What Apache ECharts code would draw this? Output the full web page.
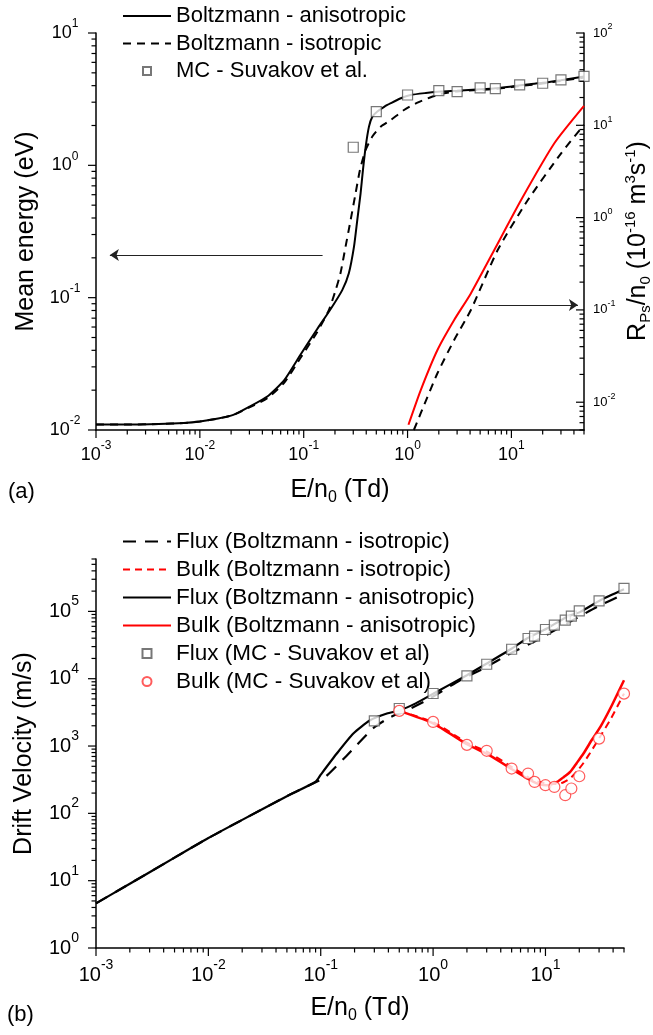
<!DOCTYPE html>
<html><head><meta charset="utf-8">
<script src="https://cdn.jsdelivr.net/npm/echarts/dist/echarts.min.js"></script>
<style>html,body{margin:0;padding:0;background:#fff}#c{width:653px;height:1035px}</style>
</head><body><div id="c"></div>
<script>
// ---------- data (panel a) ----------
const eTd_aniso = [0.001,0.002,0.004,0.007,0.01,0.015,0.021,0.03,0.045,0.065,0.093,0.135,0.18,0.235,0.272,0.305,0.328,0.353,0.372,0.395,0.425,0.458,0.512,0.6,0.69,0.85,1.07,1.5,2.09,3,5,7,10,15,20,30,50];
const energy_aniso = [0.0110,0.0110,0.0111,0.0113,0.0116,0.0122,0.0130,0.0150,0.0180,0.0238,0.037,0.058,0.081,0.114,0.153,0.243,0.386,0.615,0.923,1.38,1.96,2.33,2.55,2.78,2.95,3.2,3.4,3.52,3.61,3.66,3.75,3.82,3.95,4.1,4.2,4.4,4.7];
const eTd_iso = [0.001,0.002,0.004,0.007,0.01,0.015,0.021,0.03,0.045,0.065,0.093,0.135,0.175,0.203,0.226,0.253,0.283,0.316,0.348,0.395,0.458,0.551,0.689,0.925,1.245,1.67,2.25,3,5,7,10,15,20,30,50];
const energy_iso = [0.0110,0.0110,0.0111,0.0113,0.0116,0.0122,0.0130,0.0148,0.0175,0.0228,0.035,0.055,0.081,0.114,0.153,0.243,0.386,0.615,0.923,1.31,1.65,1.96,2.20,2.62,2.98,3.27,3.51,3.62,3.72,3.78,3.9,4.05,4.15,4.35,4.6];
const mcE_Td = [0.3,0.5,1,2,3,5,7,12,20,30,50];
const mcE_energy = [1.37,2.55,3.4,3.67,3.6,3.85,3.8,4.05,4.17,4.42,4.7];
const rTd_aniso = [1.02,1.34,1.94,2.81,4.07,6.84,12.4,25.9,50];
const rPs_aniso = [0.0057,0.01355,0.0368,0.0778,0.151,0.446,1.55,6.38,16.2];
const rTd_iso = [1.15,1.34,1.94,2.81,4.07,7.38,14.4,30.1,50];
const rPs_iso = [0.005,0.0076,0.0206,0.0472,0.0998,0.446,1.55,4.97,10.1];
// ---------- data (panel b) ----------
const fluxTd_aniso = [0.001,0.002,0.005,0.01,0.02,0.05,0.09,0.1,0.139,0.195,0.275,0.388,0.509,0.7,1.01,2.0,3.01,5.03,6.84,10.3,15.5,20.4,30.8,50];
const flux_aniso = [4.6,9,22,43,80,180,295,375,774,1535,2417,3040,3404,4300,6026,11270,16830,28100,39550,55700,82800,98300,146600,213000];
const fluxTd_iso = [0.001,0.002,0.005,0.01,0.02,0.05,0.09,0.109,0.165,0.293,0.415,0.544,0.881,1.74,2.81,4.86,8.4,15.5,28.8,50];
const flux_iso = [4.6,9,22,43,80,180,290,344,682,1838,2680,3210,4795,9500,14180,23700,37300,66100,116700,180000];
const bulkTd_aniso = [0.5,1.01,2.0,3.22,5.2,7.83,9,10.3,11.5,12.7,14.5,16.6,19,21.8,26,30.8,38,50];
const bulk_aniso = [3325,2160,1063,720,437,293,268,262,272,293,345,412,560,774,1250,1923,3700,9500];
const bulkTd_iso = [0.5,1.01,2.0,3.22,5.2,7.83,10.3,12.7,14.5,16.6,19,21.8,26,30.8,38,50];
const bulk_iso = [3325,2250,1120,780,470,310,278,272,290,330,420,560,880,1400,2500,6000];
const mcFluxTd = [0.3,0.5,1,2,3,5,7,8,10,12,15,17,20,30,50];
const mcFlux = [2360,3610,6026,11010,16400,27400,39550,42800,53800,62400,74000,84900,101700,143200,219000];
const mcBulkTd = [0.5,1,2,3,5,7,8,10,12,15,17,20,30,50];
const mcBulk = [3325,2280,1040,850,463,390,293,262,247,186,234,356,1290,6000];
// ---------- axes / labels ----------
const xMajor = [0.001,0.01,0.1,1,10];
const yEnergyMajor = [0.01,0.1,1,10];
const yRateMajor = [0.01,0.1,1,10,100];
const yVelMajor = [1,10,100,1000,10000,100000];
const legendA = ['Boltzmann - anisotropic','Boltzmann - isotropic','MC - Suvakov et al.'];
const legendB = ['Flux (Boltzmann - isotropic)','Bulk (Boltzmann - isotropic)','Flux (Boltzmann - anisotropic)','Bulk (Boltzmann - anisotropic)','Flux (MC - Suvakov et al)','Bulk (MC - Suvakov et al)'];
const rightTitle = 'R{sub|Ps}/n{sub|0} (10{sup|-16} m{sup|3}s{sup|-1})';
// arrow annotations (data units, panel a, left axis)
const arrowLeft = [[0.152,0.21],[0.00136,0.21]];
const arrowRight = [[4.83,0.088],[43.7,0.088]];

const FONT = '"Liberation Sans", Arial, sans-serif';
const pairs = (xs, ys) => xs.map((x, i) => [x, ys[i]]);

function tickVals(min, max, majors) {
  const out = [];
  for (let e = Math.floor(Math.log10(min)) ; e <= Math.ceil(Math.log10(max)); e++) {
    for (let m = 1; m <= 9; m++) {
      const v = parseFloat((m * Math.pow(10, e)).toPrecision(6));
      if (v >= min * 0.9999 && v <= max * 1.0001) out.push([v, majors.indexOf(v) >= 0 ? 1 : 0]);
    }
  }
  return out;
}
function tickSeries(xi, yi, dir, vals, fixed) {
  return {
    type: 'custom', xAxisIndex: xi, yAxisIndex: yi, silent: true, clip: false, z: 5,
    data: vals.map(t => dir === 'down' ? [t[0], fixed, t[1]] : [fixed, t[0], t[1]]),
    encode: {x: 0, y: 1},
    renderItem: function (params, api) {
      const p = api.coord([api.value(0), api.value(1)]);
      const L = api.value(2) ? 8 : 4.5;
      const s = dir === 'down' ? {x1: p[0], y1: p[1], x2: p[0], y2: p[1] + L}
                               : {x1: p[0], y1: p[1], x2: p[0] - L, y2: p[1]};
      return {type: 'line', shape: s, style: {stroke: '#000', lineWidth: 1.2}};
    }
  };
}
function labelFmt(majors) {
  return function (v) {
    for (const m of majors) if (Math.abs(v - m) / m < 1e-6) return '{b|10}{s|' + Math.round(Math.log10(m)) + '}';
    return '';
  };
}
function richLab(b, s, pad) {
  return {b: {fontSize: b, fontFamily: FONT, color: '#000'},
          s: {fontSize: s, fontFamily: FONT, color: '#000', padding: [0, 0, pad, 0]}};
}
const axisLine = {show: true, lineStyle: {color: '#000', width: 1.5}};
const nameRich = {
  sub: {fontSize: 16, fontFamily: FONT, color: '#000', padding: [16, 0, 0, 0]},
  sup: {fontSize: 16, fontFamily: FONT, color: '#000', padding: [0, 0, 16, 0]}
};
const nameRichR = {
  sub: {fontSize: 15, fontFamily: FONT, fill: '#000', padding: [15, 0, 0, 0]},
  sup: {fontSize: 15, fontFamily: FONT, fill: '#000', padding: [0, 0, 15, 0]}
};
const TITLE = {fontSize: 25, fontFamily: FONT, color: '#000'};
function xAx(gi, majors, lb, ls, lp) {
  return {type: 'log', gridIndex: gi, min: 0.001, max: 50, splitNumber: 5,
    axisLine: axisLine, axisTick: {show: false}, splitLine: {show: false},
    axisLabel: {formatter: labelFmt(majors), margin: 10, rich: richLab(lb, ls, lp), showMinLabel: true, showMaxLabel: true, hideOverlap: false},
    name: 'E/n{sub|0} (Td)', nameLocation: 'middle', nameGap: 44,
    nameTextStyle: Object.assign({rich: nameRich}, TITLE)};
}

const lineBase = {type: 'line', symbol: 'none', showSymbol: false, smooth: 0.2, emphasis: {disabled: true}, animation: false};
const lineLegendItem = n => ({name: n, itemStyle: {opacity: 0}});
const squareIcon = 'path://M0,0L10,0L10,10L0,10Z';

const option = {
  animation: false,
  backgroundColor: '#fff',
  grid: [
    {left: 96, top: 33, width: 488, height: 397},
    {left: 96, top: 559, width: 528, height: 389}
  ],
  xAxis: [xAx(0, xMajor, 18, 12, 18), xAx(1, xMajor, 20, 14, 20)],
  yAxis: [
    {type: 'log', gridIndex: 0, min: 0.01, max: 10, splitNumber: 3,
     axisLine: axisLine, axisTick: {show: false}, splitLine: {show: false},
     axisLabel: {formatter: labelFmt(yEnergyMajor), margin: 31, align: 'center', rich: richLab(18, 12, 18), showMinLabel: true, showMaxLabel: true},
     name: 'Mean energy (eV)', nameLocation: 'middle', nameGap: 57, nameTextStyle: TITLE},
    {type: 'log', gridIndex: 0, position: 'right', min: 0.005, max: 100, splitNumber: 5,
     axisLine: axisLine, axisTick: {show: false}, splitLine: {show: false},
     axisLabel: {formatter: labelFmt(yRateMajor), margin: 9, rich: richLab(13, 9, 12), showMinLabel: true, showMaxLabel: true}},
    {type: 'log', gridIndex: 1, min: 1, max: 600000, splitNumber: 6,
     axisLine: axisLine, axisTick: {show: false}, splitLine: {show: false},
     axisLabel: {formatter: labelFmt(yVelMajor), margin: 32, align: 'center', rich: richLab(20, 14, 20), showMinLabel: true, showMaxLabel: true},
     name: 'Drift Velocity (m/s)', nameLocation: 'middle', nameGap: 59, nameTextStyle: TITLE}
  ],
  legend: [
    {data: [lineLegendItem(legendA[0]), lineLegendItem(legendA[1]), {name: legendA[2], icon: squareIcon}],
     orient: 'vertical', left: 117, top: 0, itemWidth: 48, itemHeight: 8, itemGap: 5.5, symbolKeepAspect: true,
     selectedMode: false, textStyle: {fontSize: 22, fontFamily: FONT, color: '#000'}},
    {data: [lineLegendItem(legendB[0]), lineLegendItem(legendB[1]), lineLegendItem(legendB[2]), lineLegendItem(legendB[3]), {name: legendB[4], icon: squareIcon}, legendB[5]],
     orient: 'vertical', left: 117, top: 525, itemWidth: 48, itemHeight: 9, itemGap: 5, symbolKeepAspect: true,
     selectedMode: false, textStyle: {fontSize: 22.5, fontFamily: FONT, color: '#000'}}
  ],
  graphic: [
    {type: 'text', left: 8, top: 481, style: {text: '(a)', fontSize: 22, fontFamily: FONT, fill: '#000'}},
    {type: 'text', left: 7, top: 1004, style: {text: '(b)', fontSize: 22, fontFamily: FONT, fill: '#000'}},
    {type: 'text', x: 638.5, y: 241, rotation: Math.PI / 2,
     style: {text: rightTitle, fontSize: 25, fontFamily: FONT, fill: '#000', align: 'center', verticalAlign: 'middle', rich: nameRichR}}
  ],
  series: [
    Object.assign({}, lineBase, {name: legendA[0], xAxisIndex: 0, yAxisIndex: 0, data: pairs(eTd_aniso, energy_aniso),
      color: '#000', lineStyle: {color: '#000', width: 2},
      markLine: {silent: true, animation: false, symbol: ['none', 'arrow'], symbolSize: 9, label: {show: false},
        lineStyle: {color: '#222', width: 1, type: 'solid'}, emphasis: {disabled: true},
        data: [
          [{coord: arrowLeft[0]}, {coord: arrowLeft[1]}],
          [{coord: arrowRight[0]}, {coord: arrowRight[1]}]
        ]}}),
    Object.assign({}, lineBase, {name: legendA[1], xAxisIndex: 0, yAxisIndex: 0, data: pairs(eTd_iso, energy_iso),
      color: '#000', lineStyle: {color: '#000', width: 2, type: [8, 6]}}),
    {type: 'scatter', name: legendA[2], xAxisIndex: 0, yAxisIndex: 0, data: pairs(mcE_Td, mcE_energy),
      symbol: 'rect', symbolSize: 10, z: 4, emphasis: {disabled: true},
      itemStyle: {color: '#fff', borderColor: '#555', borderWidth: 1.2}},
    Object.assign({}, lineBase, {name: 'R aniso', xAxisIndex: 0, yAxisIndex: 1, data: pairs(rTd_aniso, rPs_aniso),
      color: '#f00', lineStyle: {color: '#f00', width: 2}}),
    Object.assign({}, lineBase, {name: 'R iso', xAxisIndex: 0, yAxisIndex: 1, data: pairs(rTd_iso, rPs_iso),
      color: '#000', lineStyle: {color: '#000', width: 2, type: [8, 6]}}),

    Object.assign({}, lineBase, {name: legendB[0], xAxisIndex: 1, yAxisIndex: 2, data: pairs(fluxTd_iso, flux_iso),
      color: '#000', lineStyle: {color: '#000', width: 2.2, type: [13, 9]}}),
    Object.assign({}, lineBase, {name: legendB[1], xAxisIndex: 1, yAxisIndex: 2, data: pairs(bulkTd_iso, bulk_iso),
      color: '#f00', lineStyle: {color: '#f00', width: 2, type: [7, 5]}}),
    Object.assign({}, lineBase, {name: legendB[2], xAxisIndex: 1, yAxisIndex: 2, data: pairs(fluxTd_aniso, flux_aniso),
      color: '#000', lineStyle: {color: '#000', width: 2.2}}),
    Object.assign({}, lineBase, {name: legendB[3], xAxisIndex: 1, yAxisIndex: 2, data: pairs(bulkTd_aniso, bulk_aniso),
      color: '#f00', lineStyle: {color: '#f00', width: 2.5}}),
    {type: 'scatter', name: legendB[4], xAxisIndex: 1, yAxisIndex: 2, data: pairs(mcFluxTd, mcFlux),
      symbol: 'rect', symbolSize: 10, z: 4, emphasis: {disabled: true},
      itemStyle: {color: '#fff', borderColor: '#555', borderWidth: 1.2}},
    {type: 'scatter', name: legendB[5], xAxisIndex: 1, yAxisIndex: 2, data: pairs(mcBulkTd, mcBulk),
      symbol: 'circle', symbolSize: 11, z: 4, emphasis: {disabled: true},
      itemStyle: {color: '#fff', borderColor: '#f33', borderWidth: 1.2}},

    tickSeries(0, 0, 'down', tickVals(0.001, 50, xMajor), 0.01),
    tickSeries(0, 0, 'left', tickVals(0.01, 10, yEnergyMajor), 0.001),
    tickSeries(0, 1, 'left', tickVals(0.005, 100, yRateMajor), 50),
    tickSeries(1, 2, 'down', tickVals(0.001, 50, xMajor), 1),
    tickSeries(1, 2, 'left', tickVals(1, 600000, yVelMajor), 0.001)
  ]
};
const chart = echarts.init(document.getElementById('c'), null, {renderer: 'canvas'});
chart.setOption(option);
</script></body></html>
